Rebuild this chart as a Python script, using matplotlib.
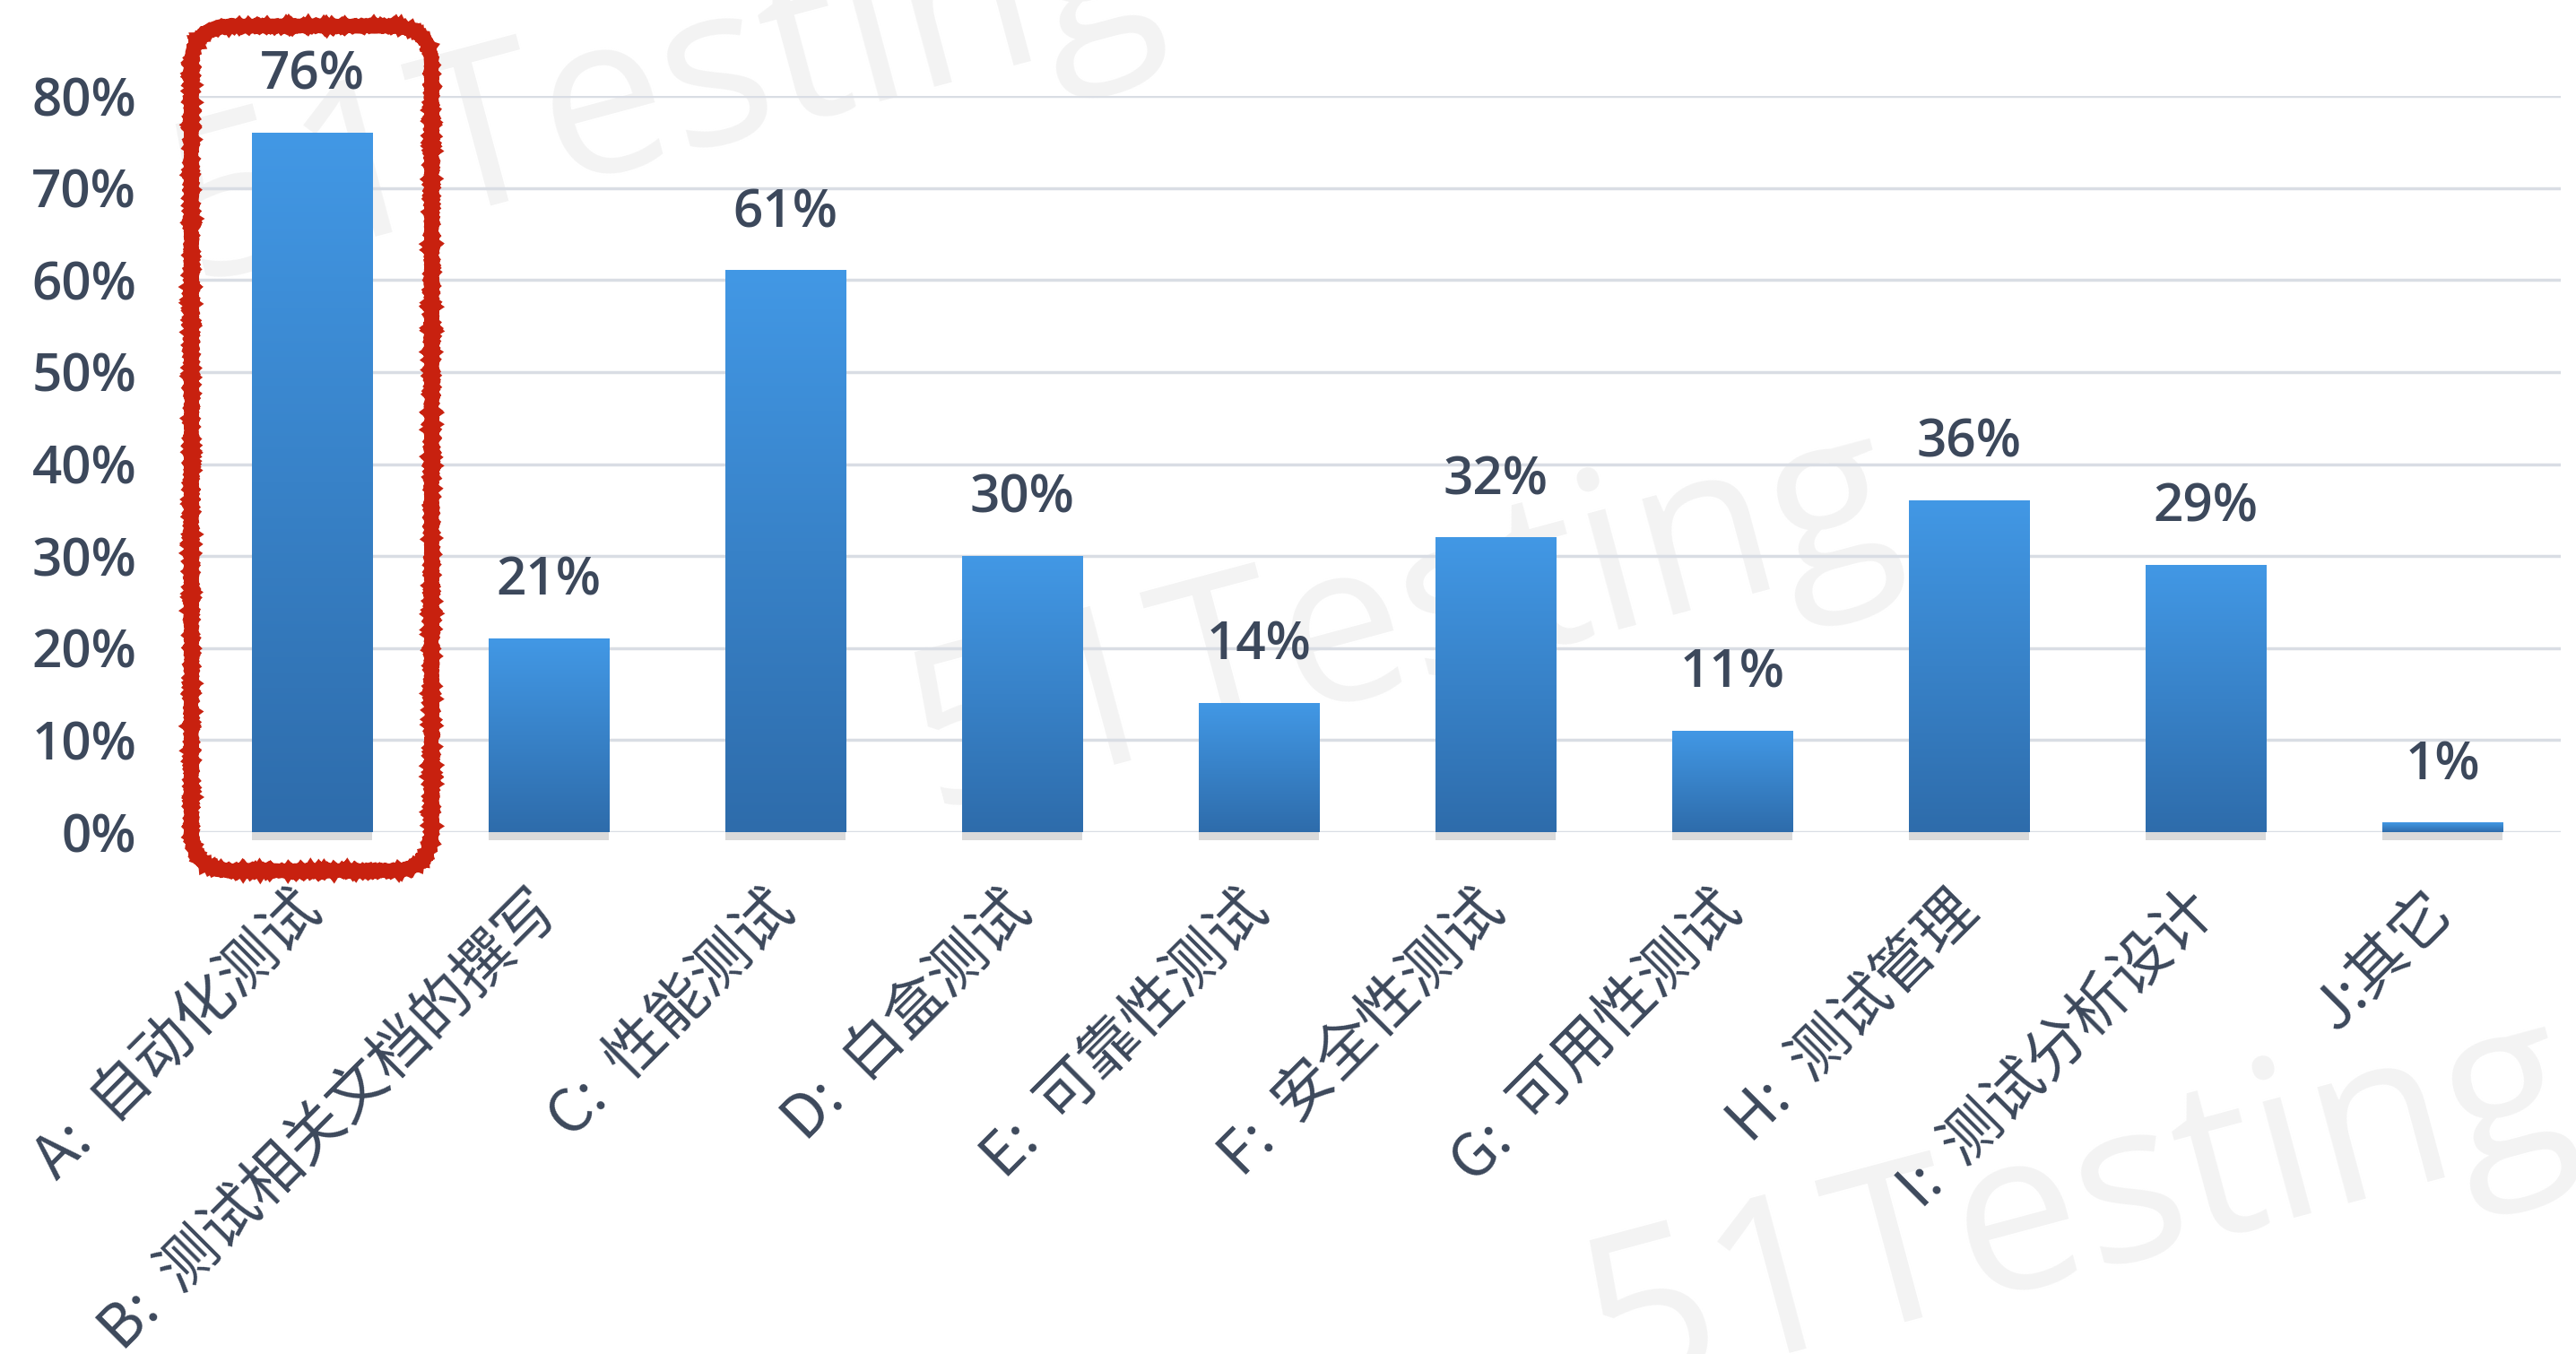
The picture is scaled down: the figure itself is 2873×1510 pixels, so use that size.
import numpy as np
import matplotlib
matplotlib.use('Agg')
import matplotlib.pyplot as plt
from matplotlib.colors import LinearSegmentedColormap
from matplotlib.patches import FancyBboxPatch, Rectangle

plt.rcParams['font.family'] = ['Open Sans', 'Noto Sans CJK SC', 'DejaVu Sans']

# data
categories = ['A:  自动化测试', 'B:  测试相关文档的撰写', 'C:  性能测试', 'D:  白盒测试',
              'E:  可靠性测试', 'F:  安全性测试', 'G:  可用性测试', 'H:  测试管理',
              'I:  测试分析设计', 'J:其它']
values = [76, 21, 61, 30, 14, 32, 11, 36, 29, 1]
y_ticks = [0, 10, 20, 30, 40, 50, 60, 70, 80]
highlight = 0
watermark = '51Testing'

text_color = '#3C485B'
grad = LinearSegmentedColormap.from_list('bar', ['#2E6CAB', '#4298E5'])

fig = plt.figure(figsize=(28.73, 15.10), dpi=100)
ax = fig.add_axes([0.0752, 0.3854, 0.9189, 0.5437])
ax.patch.set_visible(False)

# faint watermarks behind everything
for fx, fy in [(0.258, 0.93), (0.545, 0.54), (0.807, 0.105)]:
    fig.text(fx, fy, watermark, fontsize=180, color='#F3F3F3', family='Open Sans',
             rotation=15, ha='center', va='center', rotation_mode='anchor', zorder=-1)

x = np.arange(len(values))
width = 0.51
bars = ax.bar(x, values, width=width, color='none', zorder=2)
g = np.linspace(0, 1, 256).reshape(-1, 1)
for b in bars:
    x0, w, h = b.get_x(), b.get_width(), b.get_height()
    ax.imshow(g, extent=(x0, x0 + w, 0, h), origin='lower', cmap=grad,
              aspect='auto', zorder=2)
    ax.add_patch(Rectangle((x0, -0.9), w, 0.9, color='#BDBDBD', alpha=0.55,
                           lw=0, clip_on=False, zorder=1))
    ax.annotate(f'{int(h)}%', (x0 + w / 2, h), xytext=(0, 35), textcoords='offset points',
                ha='center', va='baseline', fontsize=42, fontweight='semibold',
                color=text_color)

ax.set_xlim(-0.5, len(values) - 0.5)
ax.set_ylim(0, 80)
ax.set_yticks(y_ticks)
ax.set_yticklabels([f'{t}%' for t in y_ticks], fontweight='semibold')
ax.set_xticks(x)
ax.set_xticklabels(categories, rotation=45, ha='right', va='center', rotation_mode='anchor',
                   fontsize=48, family=['Noto Sans CJK SC', 'DejaVu Sans'], color=text_color)
ax.tick_params(axis='y', length=0, pad=46, labelsize=42, labelcolor=text_color)
ax.tick_params(axis='x', length=0, pad=56)
ax.yaxis.grid(True, color='#D9DDE4', lw=2.5)
ax.set_axisbelow(True)
for s in ax.spines.values():
    s.set_visible(False)

# red hand-drawn box around the top bar
p0 = ax.transData.transform((0, 0))
p1 = ax.transData.transform((1, 1))
aspect = (p1[0] - p0[0]) / (p1[1] - p0[1])
box = FancyBboxPatch((highlight - 0.51, -4.2), 1.015, 91.8,
                     boxstyle='round,pad=0,rounding_size=0.17', mutation_aspect=aspect,
                     fill=False, ec='#C8210F', lw=11, clip_on=False, zorder=4)
box.set_sketch_params(scale=0.8, length=2, randomness=4)
ax.add_patch(box)

fig.savefig('out.png', dpi=100, facecolor='white')
